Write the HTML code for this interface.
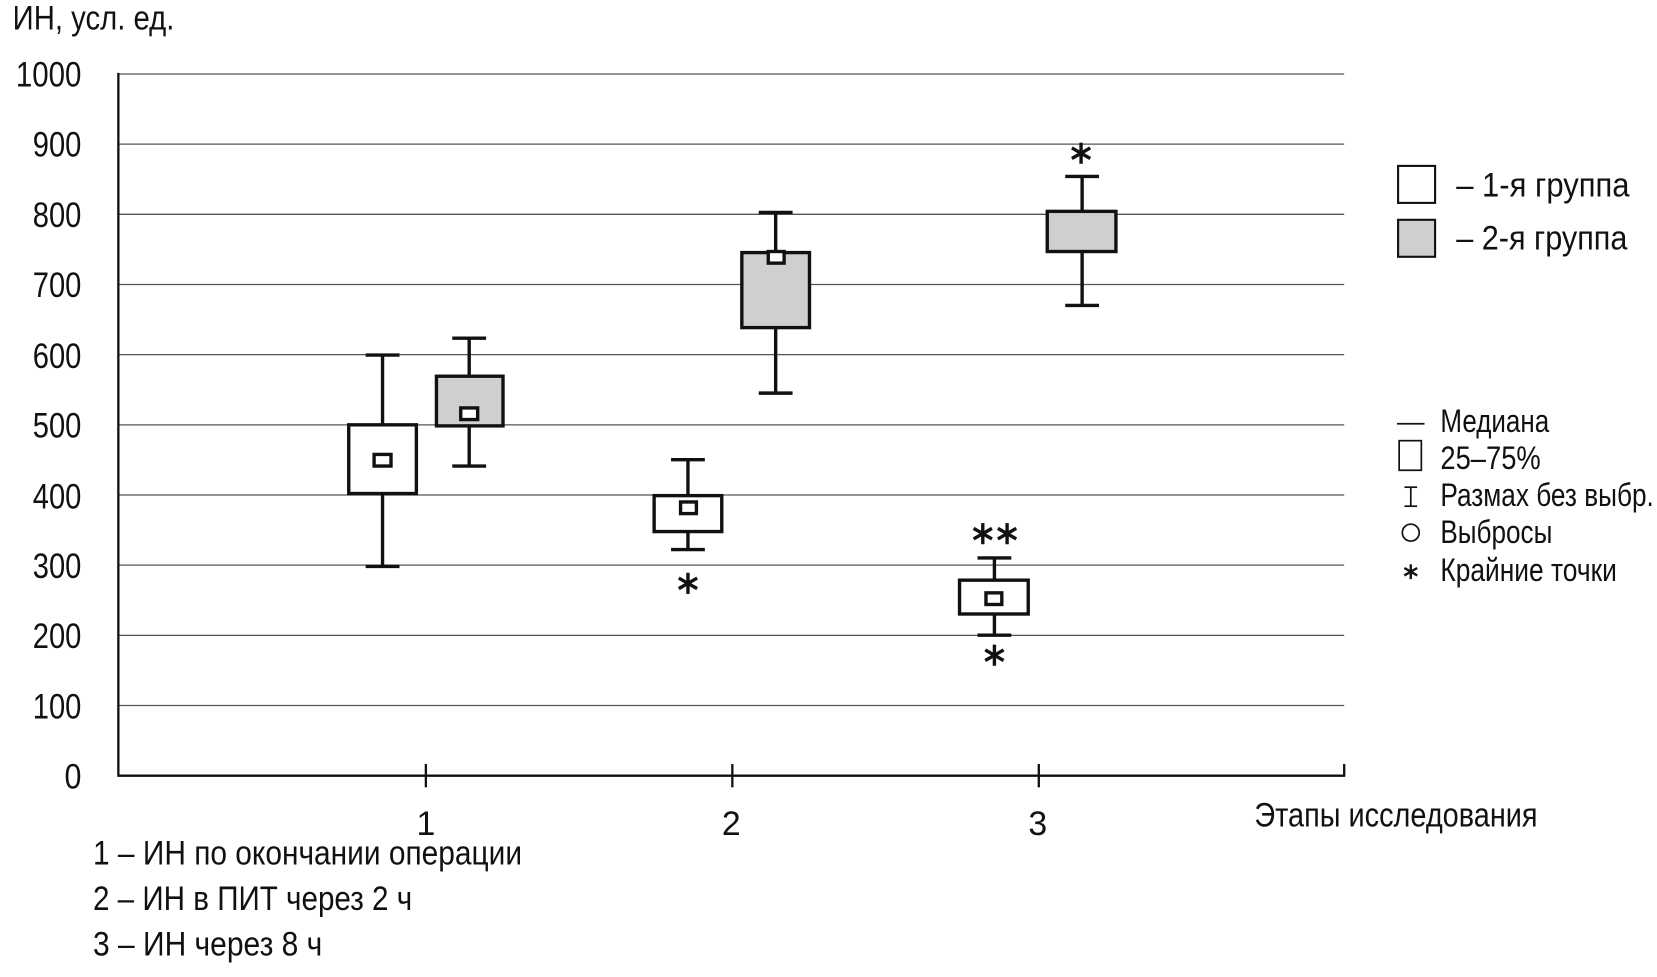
<!DOCTYPE html>
<html><head><meta charset="utf-8"><style>
html,body{margin:0;padding:0;background:#fff}
svg{display:block}
text{font-family:"Liberation Sans",sans-serif;fill:#111}
</style></head><body>
<svg width="1657" height="977" viewBox="0 0 1568 924.5" preserveAspectRatio="none" xmlns="http://www.w3.org/2000/svg">
<defs>
<g id="st" stroke="#111" stroke-width="3.2" stroke-linecap="butt">
<line x1="0" y1="-10" x2="0" y2="10"/>
<line x1="-8.7" y1="-5" x2="8.7" y2="5"/>
<line x1="-8.7" y1="5" x2="8.7" y2="-5"/>
</g>
</defs>
<g stroke="#555" stroke-width="1.2">
<line x1="112" y1="70" x2="1272" y2="70"/>
<line x1="112" y1="136.4" x2="1272" y2="136.4"/>
<line x1="112" y1="202.8" x2="1272" y2="202.8"/>
<line x1="112" y1="269.2" x2="1272" y2="269.2"/>
<line x1="112" y1="335.6" x2="1272" y2="335.6"/>
<line x1="112" y1="402" x2="1272" y2="402"/>
<line x1="112" y1="468.4" x2="1272" y2="468.4"/>
<line x1="112" y1="534.8" x2="1272" y2="534.8"/>
<line x1="112" y1="601.2" x2="1272" y2="601.2"/>
<line x1="112" y1="667.6" x2="1272" y2="667.6"/>
</g>
<g stroke="#111" stroke-width="2.2">
<line x1="112" y1="69" x2="112" y2="735"/>
<line x1="112" y1="734" x2="1273" y2="734"/>
<line x1="403" y1="723" x2="403" y2="745"/>
<line x1="693" y1="723" x2="693" y2="745"/>
<line x1="983" y1="723" x2="983" y2="745"/>
<line x1="1272" y1="723" x2="1272" y2="734"/>
</g>
<g font-size="33" text-anchor="end">
<text x="77" y="82" textLength="62" lengthAdjust="spacingAndGlyphs">1000</text>
<text x="77" y="148" textLength="46" lengthAdjust="spacingAndGlyphs">900</text>
<text x="77" y="215" textLength="46" lengthAdjust="spacingAndGlyphs">800</text>
<text x="77" y="281" textLength="46" lengthAdjust="spacingAndGlyphs">700</text>
<text x="77" y="348" textLength="46" lengthAdjust="spacingAndGlyphs">600</text>
<text x="77" y="414" textLength="46" lengthAdjust="spacingAndGlyphs">500</text>
<text x="77" y="481" textLength="46" lengthAdjust="spacingAndGlyphs">400</text>
<text x="77" y="547" textLength="46" lengthAdjust="spacingAndGlyphs">300</text>
<text x="77" y="613" textLength="46" lengthAdjust="spacingAndGlyphs">200</text>
<text x="77" y="680" textLength="46" lengthAdjust="spacingAndGlyphs">100</text>
<text x="77" y="746" textLength="16" lengthAdjust="spacingAndGlyphs">0</text>
</g>
<text x="12" y="28" font-size="32" textLength="153" lengthAdjust="spacingAndGlyphs">ИН, усл. ед.</text>
<g font-size="32" text-anchor="middle">
<text x="403" y="790">1</text><text x="692" y="790">2</text><text x="982" y="790">3</text>
</g>
<g font-size="32">
<text x="1187" y="782" textLength="268" lengthAdjust="spacingAndGlyphs">Этапы исследования</text>
<text x="88" y="818" textLength="406" lengthAdjust="spacingAndGlyphs">1 – ИН по окончании операции</text>
<text x="88" y="861" textLength="302" lengthAdjust="spacingAndGlyphs">2 – ИН в ПИТ через 2 ч</text>
<text x="88" y="904" textLength="217" lengthAdjust="spacingAndGlyphs">3 – ИН через 8 ч</text>
</g>
<g stroke="#111" stroke-width="3.2">
<line x1="362" y1="336" x2="362" y2="536"/><line x1="346" y1="336" x2="378" y2="336"/><line x1="346" y1="536" x2="378" y2="536"/>
<rect x="330" y="402" width="64" height="65" fill="#fff"/>
<rect x="354" y="430" width="16" height="11" fill="#fff"/>
<line x1="444" y1="320" x2="444" y2="441"/><line x1="428" y1="320" x2="460" y2="320"/><line x1="428" y1="441" x2="460" y2="441"/>
<rect x="413" y="356" width="63" height="47" fill="#cfcfcf"/>
<rect x="436" y="386" width="16" height="11" fill="#fff"/>
<line x1="651" y1="435" x2="651" y2="520"/><line x1="635" y1="435" x2="667" y2="435"/><line x1="635" y1="520" x2="667" y2="520"/>
<rect x="619" y="469" width="64" height="34" fill="#fff"/>
<rect x="644" y="475" width="15" height="11" fill="#fff"/>
<line x1="734" y1="201" x2="734" y2="372"/><line x1="718" y1="201" x2="750" y2="201"/><line x1="718" y1="372" x2="750" y2="372"/>
<rect x="702" y="239" width="64" height="71" fill="#cfcfcf"/>
<rect x="727" y="238" width="15" height="11" fill="#fff"/>
<line x1="941" y1="528" x2="941" y2="601"/><line x1="925" y1="528" x2="957" y2="528"/><line x1="925" y1="601" x2="957" y2="601"/>
<rect x="908" y="549" width="65" height="32" fill="#fff"/>
<rect x="933" y="561" width="15" height="11" fill="#fff"/>
<line x1="1024" y1="167" x2="1024" y2="289"/><line x1="1008" y1="167" x2="1040" y2="167"/><line x1="1008" y1="289" x2="1040" y2="289"/>
<rect x="991" y="200" width="65" height="38" fill="#cfcfcf"/>
</g>
<use href="#st" x="651" y="552"/>
<use href="#st" x="930" y="505"/>
<use href="#st" x="953" y="505"/>
<use href="#st" x="941" y="620"/>
<use href="#st" x="1023" y="145"/>
<rect x="1323" y="157" width="35" height="35" fill="#fff" stroke="#111" stroke-width="2"/>
<rect x="1323" y="208" width="35" height="35" fill="#cfcfcf" stroke="#111" stroke-width="2"/>
<g font-size="32">
<text x="1378" y="186" textLength="164" lengthAdjust="spacingAndGlyphs">– 1-я группа</text>
<text x="1378" y="236" textLength="162" lengthAdjust="spacingAndGlyphs">– 2-я группа</text>
</g>
<g stroke="#111" stroke-width="1.6" fill="none">
<line x1="1322" y1="401" x2="1348" y2="401"/>
<rect x="1324" y="417" width="21" height="28"/>
<line x1="1335" y1="461" x2="1335" y2="479"/><line x1="1329" y1="461" x2="1341" y2="461"/><line x1="1329" y1="479" x2="1341" y2="479"/>
<circle cx="1335" cy="504" r="8"/>
</g>
<g transform="translate(1335,541) scale(0.7)"><use href="#st" stroke-width="3"/></g>
<g font-size="31">
<text x="1363" y="409" textLength="103" lengthAdjust="spacingAndGlyphs">Медиана</text>
<text x="1363" y="444" textLength="95" lengthAdjust="spacingAndGlyphs">25–75%</text>
<text x="1363" y="479" textLength="202" lengthAdjust="spacingAndGlyphs">Размах без выбр.</text>
<text x="1363" y="514" textLength="106" lengthAdjust="spacingAndGlyphs">Выбросы</text>
<text x="1363" y="550" textLength="167" lengthAdjust="spacingAndGlyphs">Крайние точки</text>
</g>
</svg>
</body></html>
